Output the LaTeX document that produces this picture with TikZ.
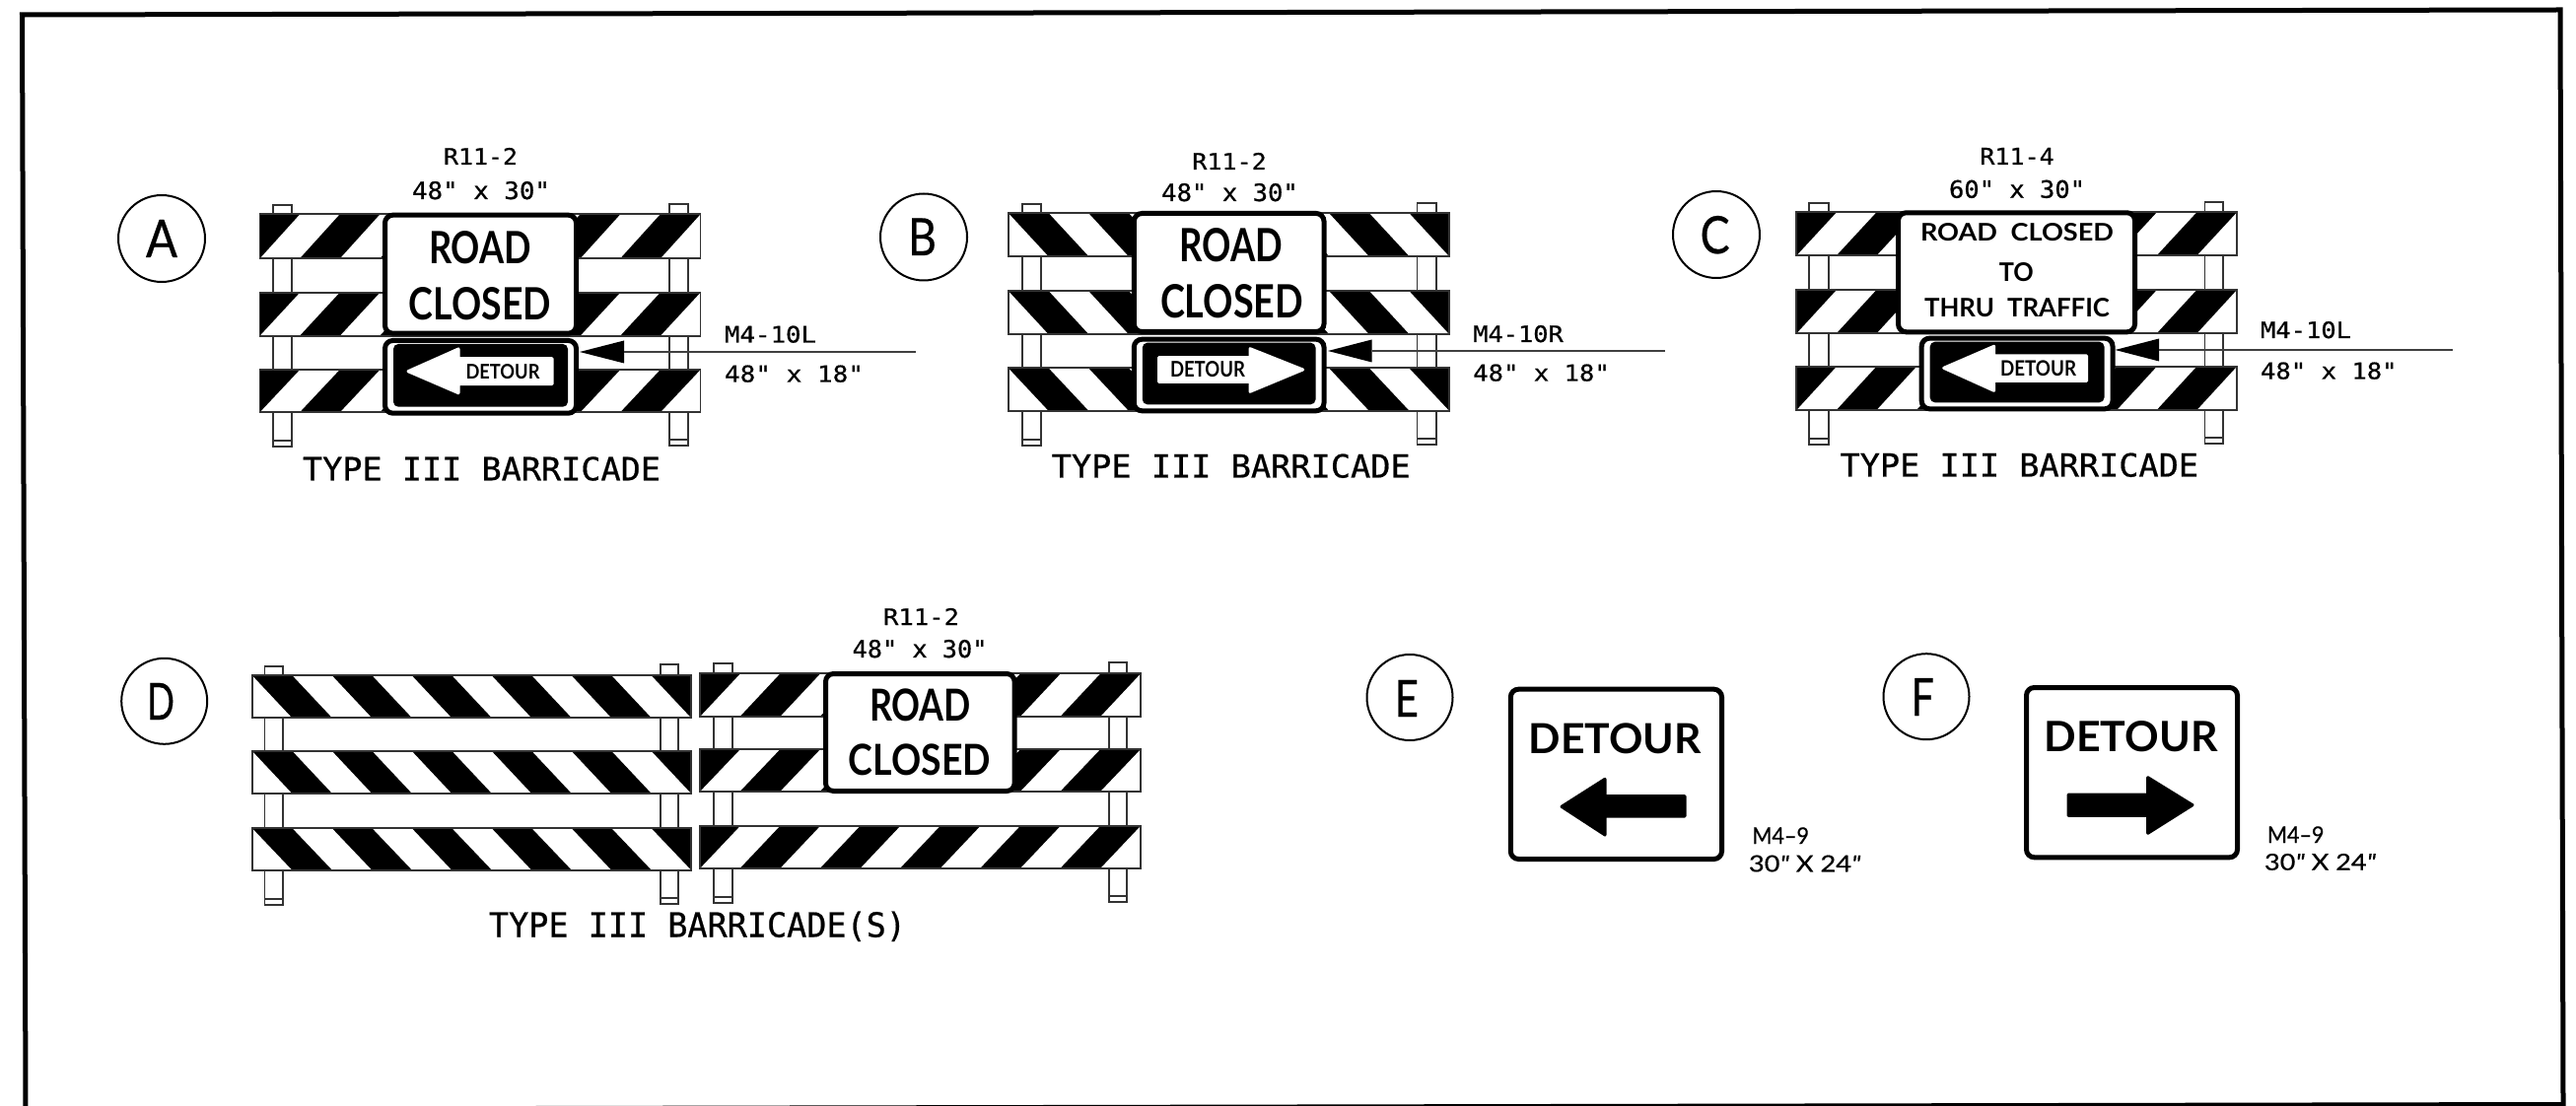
\documentclass[tikz,border=0pt]{standalone}
\usepackage{fontspec}
\usepackage{graphicx}
\newfontfamily\monof[FakeBold=0.6]{DejaVu Sans Mono}
\newfontfamily\signf{Lato}
\newfontfamily\signm[FakeBold=0.5]{Lato}
\newcommand\signb{\signf\bfseries}
\newcommand\pp{{\itshape"}}
\newdimen\pxu \pxu=0.5pt
\tikzset{
  frameline/.style={line width=2.5pt},
  boardline/.style={line width=0.9pt,draw=black!80},
  postline/.style={line width=0.9pt,draw=black!80,fill=white},
  signedge/.style={line width=2.5pt,draw=black,fill=white,rounded corners=4pt},
  leader/.style={line width=0.8pt,draw=black!75},
  ring/.style={circle,draw=black,line width=1pt,fill=white,inner sep=0pt},
  txt/.style={anchor=base,inner sep=0pt,outer sep=0pt,text=black},
}
% text fitted to width and height in reference pixels: name, centre x, baseline y, w, h, text
\newcommand\T[6]{\node[txt] (#1) at (#2,#3) {\resizebox{#4\pxu}{#5\pxu}{#6}};}
\newcommand\board[5]{%
  \pgfmathsetmacro\bP{(#3-#1)/5.5}%
  \fill[white] (#1,#2) rectangle (#3,#4);
  \begin{scope}
    \clip (#1,#2) rectangle (#3,#4);
    \foreach \k in {-1,...,7}{
      \fill[black] ({#1+\k*\bP},#2) -- ({#1+(\k+0.5)*\bP},#2) -- ({#1+(\k+0.5)*\bP+(#5)},#4) -- ({#1+\k*\bP+(#5)},#4) -- cycle;
    }
  \end{scope}
  \draw[boardline] (#1,#2) rectangle (#3,#4);
}
\newcommand\post[4]{%
  \draw[postline] (#1,#2) rectangle (#3,#4);
  \draw[postline] (#1,#4-6) -- (#3,#4-6);
}
\newcommand\signbox[4]{\draw[signedge] (#1+2.5,#2+2.5) rectangle (#3-2.5,#4-2.5);}
\newcommand\arrowshape[9]{%
  \filldraw[#9,draw=#9,line width=1.5pt,line join=round]
   (#1+3,#2) -- (#3,#4+2) -- (#3,#6+1) -- (#8,#6+1) -- (#8,#7-1) -- (#3,#7-1) -- (#3,#5-2) -- cycle;
}
\newcommand\detoursign[4]{%
  \signbox{#1}{#2}{#3}{#4}
  \fill[black,rounded corners=2.5pt] (#1+11,#2+6) rectangle (#3-11,#4-9);
}
% pointer: name, tip x, y, back x, half height, end x
\newcommand\pointer[6]{%
  \coordinate (#1back) at (#4,#3);
  \coordinate (#1end) at (#6,#3);
  \fill[black] (#2,#3) -- (#4,#3-#5) -- (#4,#3+#5) -- cycle;
  \draw[leader] (#1back) -- (#1end);
}
\begin{document}
\begin{tikzpicture}[x=0.5pt,y=-0.5pt]
\useasboundingbox (0,0) rectangle (2613,1122);
\clip (0,0) rectangle (2613,1122);
\fill[white] (0,0) rectangle (2613,1122);
\draw[frameline] (22.5,15) -- (2597,10) -- (2600,1120.5) -- (26,1125.5) -- cycle;

%% A
\node[ring,minimum size=44pt] (cA) at (164,242) {};
\T{lA}{164}{261}{32}{38}{\signm A}
\post{276.6}{208}{296}{453}
\post{679}{207}{698}{452}
\board{263.5}{217.3}{710.5}{262.3}{-40.7}
\board{263.5}{296.7}{710.5}{340.7}{-40.7}
\board{263.5}{375}{710.5}{418.3}{-40.7}
\signbox{388}{215.7}{587}{340.7}
\T{roadA}{487}{268}{104}{33}{\signb ROAD}
\T{closedA}{487}{325}{144}{33}{\signb CLOSED}
\detoursign{388}{343}{587}{421.7}
\arrowshape{411}{376.7}{465}{352}{400.7}{362.7}{390.7}{560}{white}
\T{detA}{510}{385}{75}{15}{\signb DETOUR}
\pointer{pA}{588}{357}{633}{11.5}{929}
\T{mA}{781.5}{347.5}{93}{17}{\monof M4-10L}
\T{sA}{805.5}{387.5}{141}{17}{\monof 48\pp\ x 18\pp}
\T{rA}{487.5}{167}{75}{17}{\monof R11-2}
\T{dA}{488}{202}{140}{18}{\monof 48\pp\ x 30\pp}
\T{tA}{488.5}{487.3}{363}{24}{\monof TYPE III BARRICADE}

%% B
\node[ring,minimum size=44pt] (cB) at (937,240.5) {};
\T{lB}{935.5}{259}{29}{37.5}{\signm B}
\post{1037}{207.3}{1055.7}{451.7}
\post{1437.5}{206}{1457}{450.7}
\board{1022.8}{216}{1470}{260}{40.7}
\board{1022.8}{295}{1470}{339}{40.7}
\board{1022.8}{373.3}{1470}{416.7}{40.7}
\signbox{1147.8}{214}{1345.5}{339}
\T{roadB}{1248.7}{266}{104.6}{34}{\signb ROAD}
\T{closedB}{1249.5}{322.7}{145}{34}{\signb CLOSED}
\detoursign{1147.8}{341.7}{1345.5}{419.3}
\arrowshape{1324.6-6}{375}{1268}{351.7}{399.3}{361.7}{388.3}{1175.5}{white}
\T{detB}{1225}{383}{76}{16}{\signb DETOUR}
\pointer{pB}{1347}{356}{1391.5}{11.5}{1689}
\T{mB}{1540}{347}{91.5}{17}{\monof M4-10R}
\T{sB}{1563.5}{386.5}{138.5}{17}{\monof 48\pp\ x 18\pp}
\T{rB}{1247}{172}{75.5}{17}{\monof R11-2}
\T{dB}{1247.5}{204}{138.7}{18}{\monof 48\pp\ x 30\pp}
\T{tB}{1248.7}{484.5}{364}{24}{\monof TYPE III BARRICADE}

%% C
\node[ring,minimum size=44pt] (cC) at (1741,238) {};
\T{lC}{1739.6}{257}{30}{38}{\signm C}
\post{1835.3}{206}{1855}{450.7}
\post{2236.5}{205}{2255}{450}
\board{1822.3}{215.3}{2269}{259.3}{-40.7}
\board{1822.3}{294}{2269}{338.3}{-40.7}
\board{1822.3}{371.7}{2269}{416}{-40.7}
\signbox{1923}{213.3}{2168}{339.3}
\T{roadC}{2046}{244.3}{196}{18}{\signb ROAD\hspace{0.5em}CLOSED}
\T{toC}{2045.3}{285.7}{35}{19}{\signb TO}
\T{thruC}{2046}{321.7}{188}{19}{\signb THRU\hspace{0.5em}TRAFFIC}
\detoursign{1946.7}{340.7}{2145.5}{417.3}
\arrowshape{1968.7}{373.3}{2022.6}{349.3}{398.3}{360}{387.3}{2116.7}{white}
\T{detC}{2067.5}{381.7}{77}{15.7}{\signb DETOUR}
\pointer{pC}{2145.5}{355}{2190}{11.5}{2488}
\T{mC}{2339}{343}{92}{17}{\monof M4-10L}
\T{sC}{2362.3}{384.5}{138.6}{17}{\monof 48\pp\ x 18\pp}
\T{rC}{2046}{167}{75.3}{17}{\monof R11-4}
\T{dC}{2046}{200.7}{138}{18}{\monof 60\pp\ x 30\pp}
\T{tC}{2048.3}{483.5}{363.5}{24}{\monof TYPE III BARRICADE}

%% D
\node[ring,minimum size=43.5pt] (cD) at (166.7,711.3) {};
\T{lD}{163}{730}{28}{37}{\signm D}
\post{268.4}{675.7}{287.3}{918.3}
\post{669.6}{674.3}{687.9}{916.7}
\post{723.6}{673}{742.6}{916}
\post{1125}{672}{1143}{915}
\board{255.7}{685}{701}{728.3}{40.7}
\board{255.7}{761.7}{701}{805}{40.7}
\board{255.7}{840}{701}{882.7}{40.7}
\board{710.3}{683.3}{1157}{726.7}{-40.7}
\board{710.3}{760}{1157}{802.7}{-40.7}
\board{710.3}{837.7}{1157}{880.7}{-40.7}
\signbox{835}{681}{1031.6}{805}
\T{roadD}{933.5}{731.7}{103}{32.7}{\signb ROAD}
\T{closedD}{933}{786.7}{144}{31.7}{\signb CLOSED}
\T{rD}{934.5}{634}{77}{17}{\monof R11-2}
\T{dD}{933}{667}{136.8}{18}{\monof 48\pp\ x 30\pp}
\T{tD}{707.5}{950.5}{423}{26}{\monof TYPE III BARRICADE(S)}

%% E
\node[ring,minimum size=43.5pt] (cE) at (1430,707.5) {};
\T{lE}{1426.8}{727}{24.3}{37}{\signm E}
\signbox{1529.8}{696.7}{1749}{874}
\T{detE}{1638.4}{764}{175}{30.7}{\signb DETOUR}
\arrowshape{1581}{818.3}{1628}{788.3}{849}{806.7}{829}{1709}{black}
\T{mE}{1806.2}{856}{57.6}{16.7}{\signm M4–9}
\T{sE}{1830.7}{884.3}{113.5}{16.7}{\signm 30{\itshape"} X 24{\itshape"}}

%% F
\node[ring,minimum size=43.5pt] (cF) at (1954,706.7) {};
\T{lF}{1950.3}{726}{23.3}{38}{\signm F}
\signbox{2053}{695}{2272}{872.3}
\T{detF}{2161.5}{762.7}{176}{31}{\signb DETOUR}
\arrowshape{2227-6}{816.7}{2178.7}{786.7}{847.3}{805}{828.3}{2098}{black}
\T{mF}{2328.7}{855}{57.5}{16.7}{\signm M4–9}
\T{sF}{2353.5}{882.7}{113}{16.7}{\signm 30{\itshape"} X 24{\itshape"}}
\end{tikzpicture}
\end{document}
